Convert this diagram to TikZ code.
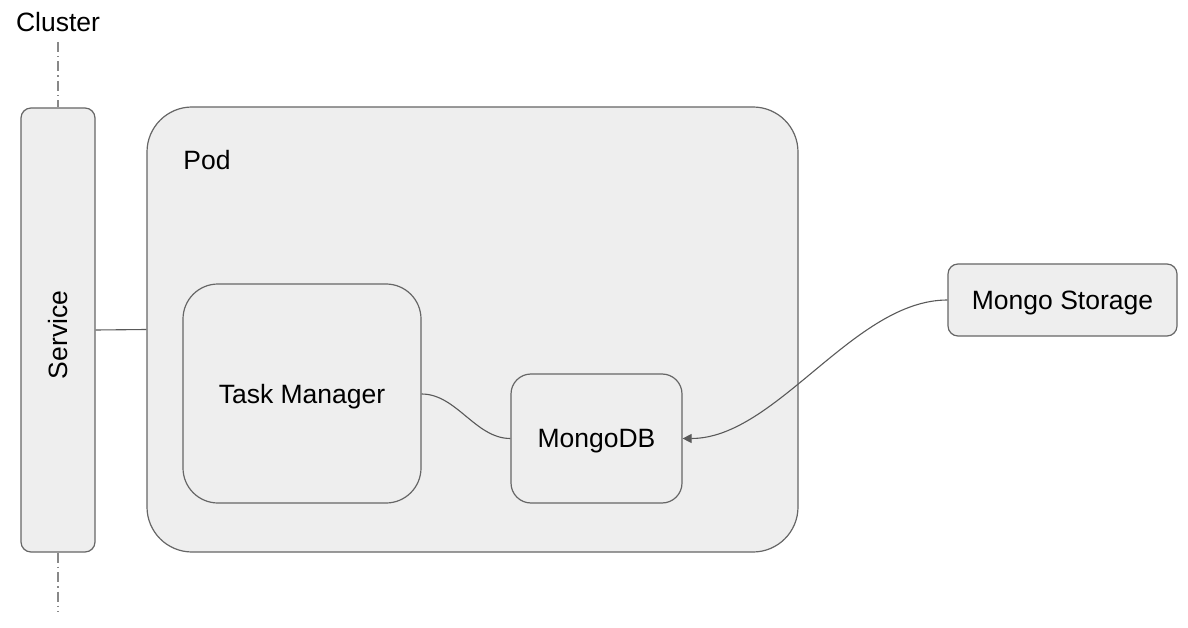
\documentclass[tikz,border=0pt]{standalone}
\usepackage{fontspec}
\setmainfont{Liberation Sans}
\usetikzlibrary{arrows.meta}
\definecolor{boxfill}{HTML}{EEEEEE}
\definecolor{boxline}{HTML}{666666}
\definecolor{conn}{HTML}{595959}
\definecolor{cline}{HTML}{888888}
\begin{document}
\begin{tikzpicture}[x=1pt,y=-1pt,
  box/.style={draw=boxline,fill=boxfill,line width=1.2pt,rectangle,inner sep=0pt},
  lbl/.style={inner sep=0pt,font=\fontsize{26.5}{30}\selectfont,text=black,text depth=0pt},
  wire/.style={draw=conn,line width=1.1pt},
  clusterline/.style={draw=cline,line width=1.1pt,dash pattern=on 10pt off 4pt on 1.5pt off 4pt}]
\useasboundingbox (0,0) rectangle (1188,628);
\node[lbl] (cluster) at (58,22) {Cluster};
\node[box,rounded corners=10pt,minimum width=74pt,minimum height=444pt] (service) at (58,330) {};
\node[lbl,rotate=90] (servicelabel) at (58,335) {Service};
\node[box,rounded corners=45pt,minimum width=651pt,minimum height=445pt] (pod) at (472.5,329.5) {};
\node[lbl] (podlabel) at (207,160) {Pod};
\node[box,lbl,rounded corners=35pt,minimum width=238pt,minimum height=219pt] (tm) at (302,393.5) {Task Manager};
\node[box,lbl,rounded corners=20pt,minimum width=171pt,minimum height=129pt] (mongo) at (596.5,438.5) {MongoDB};
\node[box,lbl,rounded corners=10pt,minimum width=229pt,minimum height=72pt] (storage) at (1062.5,300) {Mongo Storage};
\coordinate (ctop) at (58,42);
\coordinate (cbot) at (58,612);
\draw[clusterline] (ctop) -- (service.north);
\draw[clusterline] (service.south) -- (cbot);
\draw[wire] (service.east) -- (pod.west);
\draw[wire] (tm.east |- 0,394) to[out=0,in=180,looseness=0.9] (mongo.west);
\draw[wire,-{Triangle[length=9pt,width=9pt]}] (storage.west) to[out=180,in=0,looseness=0.8] (mongo.east);
\end{tikzpicture}
\end{document}
